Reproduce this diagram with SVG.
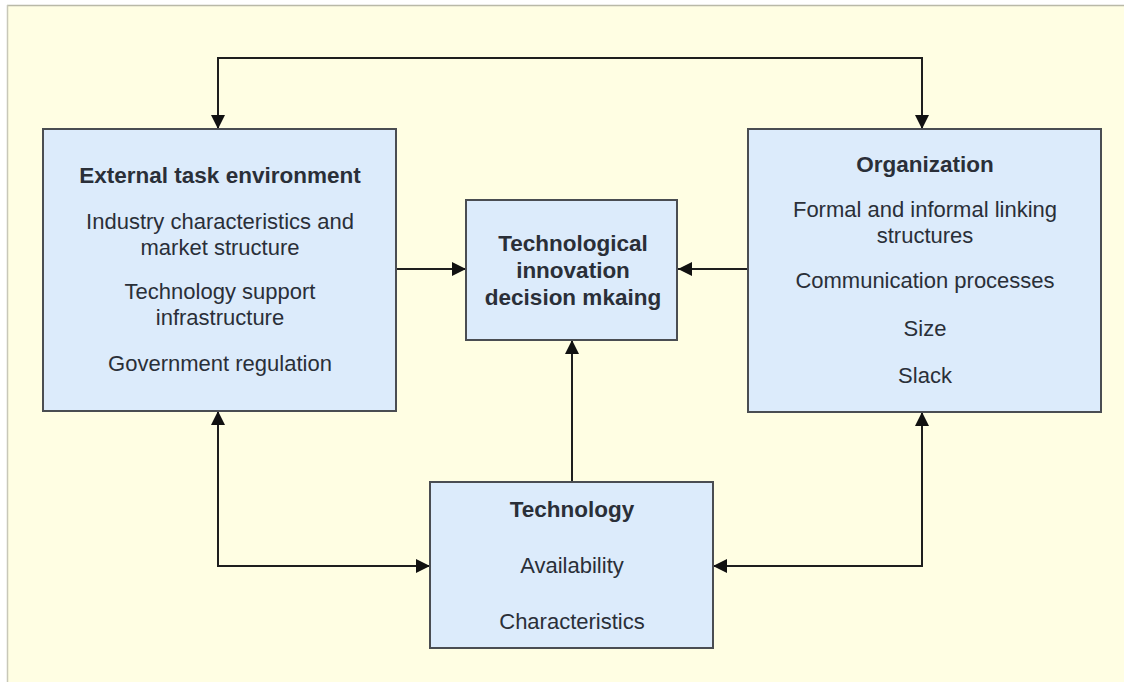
<svg xmlns="http://www.w3.org/2000/svg" width="1124" height="682" viewBox="0 0 1124 682">
<style>
.box{fill:#dcebfb;stroke:#4a4d52;stroke-width:2}
.t{font-family:"Liberation Sans",Arial,sans-serif;font-size:22px;fill:#2a2f38;text-anchor:middle}
.b{font-weight:bold;font-size:22.5px}
.c{fill:none;stroke:#1e1e1e;stroke-width:2}
</style>
<defs>
<marker id="ah" markerUnits="userSpaceOnUse" markerWidth="16" markerHeight="16" viewBox="0 0 16 16" refX="15" refY="8" orient="auto-start-reverse">
<path d="M1,1 L15,8 L1,15 Z" fill="#111"/>
</marker>
</defs>
<rect x="0" y="0" width="1124" height="682" fill="#ffffff"/>
<rect x="7" y="5" width="1117" height="677" fill="#fffee3"/>
<line x1="7" y1="5.5" x2="1124" y2="5.5" stroke="#b9b9a8" stroke-width="1.5"/>
<line x1="7.5" y1="5" x2="7.5" y2="682" stroke="#c8c8b8" stroke-width="1.5"/>

<g id="connectors">
<path class="c" d="M218,129 V58 H922 V129" marker-start="url(#ah)" marker-end="url(#ah)"/>
<path class="c" d="M397,269 H466" marker-end="url(#ah)"/>
<path class="c" d="M747,269 H678" marker-end="url(#ah)"/>
<path class="c" d="M572,482 V340" marker-end="url(#ah)"/>
<path class="c" d="M218,411 V566 H430" marker-start="url(#ah)" marker-end="url(#ah)"/>
<path class="c" d="M922,412 V566 H713" marker-start="url(#ah)" marker-end="url(#ah)"/>
</g>

<g id="external">
<rect class="box" x="43" y="129" width="353" height="282"/>
<text class="t b" x="220" y="183">External task environment</text>
<text class="t" x="220" y="229">Industry characteristics and<tspan x="220" dy="25.5">market structure</tspan></text>
<text class="t" x="220" y="299">Technology support<tspan x="220" dy="25.5">infrastructure</tspan></text>
<text class="t" x="220" y="371">Government regulation</text>
</g>

<g id="decision">
<rect class="box" x="466" y="200" width="211" height="140"/>
<text class="t b" x="573" y="251">Technological<tspan x="573" dy="27">innovation</tspan><tspan x="573" dy="27">decision mkaing</tspan></text>
</g>

<g id="organization">
<rect class="box" x="748" y="129" width="353" height="283"/>
<text class="t b" x="925" y="172">Organization</text>
<text class="t" x="925" y="217">Formal and informal linking<tspan x="925" dy="25.5">structures</tspan></text>
<text class="t" x="925" y="288">Communication processes</text>
<text class="t" x="925" y="336">Size</text>
<text class="t" x="925" y="383">Slack</text>
</g>

<g id="technology">
<rect class="box" x="430" y="482" width="283" height="166"/>
<text class="t b" x="572" y="517">Technology</text>
<text class="t" x="572" y="573">Availability</text>
<text class="t" x="572" y="629">Characteristics</text>
</g>
</svg>
